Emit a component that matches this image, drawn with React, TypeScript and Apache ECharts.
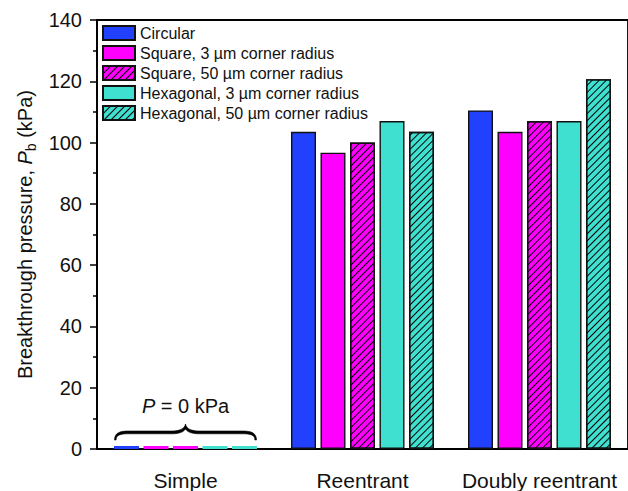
import React, { useEffect, useRef } from "react";
import * as echarts from "echarts";

const categories = ["Simple", "Reentrant", "Doubly reentrant"];
const seriesNames = [
  "Circular",
  "Square, 3 µm corner radius",
  "Square, 50 µm corner radius",
  "Hexagonal, 3 µm corner radius",
  "Hexagonal, 50 µm corner radius",
];
const circular = [0, 103.5, 110.5];
const square3 = [0, 96.7, 103.5];
const square50 = [0, 100, 107];
const hex3 = [0, 107, 107];
const hex50 = [0, 103.5, 120.7];
const yTicks = [0, 20, 40, 60, 80, 100, 120, 140];

const colors = ["#2241FF", "#FF00FF", "#FF00FF", "#40E0D0", "#40E0D0"];
const hatched = [false, false, true, false, true];
const values = [circular, square3, square50, hex3, hex50];

const FONT = "'Liberation Sans', Arial, Helvetica, sans-serif";

const BRACE_D =
  "M0,16 C0,8.5 6,7 14,7 L57,7 C65,7 70,5 71,0 C72,5 77,7 85,7 L128,7 C136,7 142,8.5 142,16 " +
  "L140.4,16 C140.4,11 136,9.8 128,9.8 L85,9.8 C77,9.8 73,8 71,5 C69,8 65,9.8 57,9.8 L14,9.8 C6,9.8 1.6,11 1.6,16 Z";
echarts.graphic.registerShape("brace", (echarts.graphic as any).extendPath(BRACE_D, {}));

export default function App() {
  const ref = useRef<HTMLDivElement>(null);
  useEffect(() => {
    document.body.style.margin = "0";
    const chart = echarts.init(ref.current!, null, { renderer: "svg" });
    const decal = {
      symbol: "rect",
      symbolSize: 1,
      dashArrayX: [1, 0],
      dashArrayY: [0.9, 3.6],
      rotation: -Math.PI / 4,
      color: "#000",
      backgroundColor: null,
    };
    const series = seriesNames.map((name, i) => ({
      name,
      type: "bar",
      barWidth: 25,
      barGap: "18%",
      barMinHeight: 3,
      itemStyle: {
        color: colors[i],
        borderColor: "#111",
        borderWidth: 1.4,
        decal: hatched[i] ? decal : undefined,
      },
      data: values[i].map((v) =>
        v === 0
          ? { value: v, itemStyle: { borderWidth: 0, decal: { symbol: "none" } } }
          : v
      ),
    }));
    chart.setOption({
      animation: false,
      textStyle: { fontFamily: FONT },
      grid: {
        left: 97,
        right: 0,
        top: 20,
        bottom: 41,
        show: true,
        borderColor: "#000",
        borderWidth: 1.8,
      },
      legend: {
        left: 102,
        top: 25,
        padding: 0,
        orient: "vertical",
        itemWidth: 32,
        itemHeight: 14,
        itemGap: 4,
        icon: "rect",
        textStyle: { fontSize: 16, color: "#111", fontFamily: FONT },
        data: seriesNames,
      },
      xAxis: {
        type: "category",
        data: categories,
        axisLine: { lineStyle: { color: "#000", width: 1.8 } },
        axisTick: { alignWithLabel: true, length: 6, lineStyle: { color: "#000", width: 1.5 } },
        axisLabel: { interval: 0, fontSize: 21, color: "#111", margin: 21, fontFamily: FONT },
      },
      yAxis: {
        type: "value",
        min: 0,
        max: yTicks[yTicks.length - 1],
        interval: 20,
        splitLine: { show: false },
        axisLine: { show: true, lineStyle: { color: "#000", width: 1.8 } },
        axisTick: { show: true, length: 7, lineStyle: { color: "#000", width: 1.5 } },
        minorTick: { show: true, splitNumber: 2, length: 4, lineStyle: { color: "#000", width: 1.5 } },
        axisLabel: { fontSize: 20, color: "#111", margin: 15, fontFamily: FONT },
        name: "{a|Breakthrough pressure, }{i|P}{s|b}{a| (kPa)}",
        nameLocation: "middle",
        nameGap: 58,
        nameTextStyle: {
          fontFamily: FONT,
          rich: {
            a: { fontSize: 20, color: "#111", fontFamily: FONT, lineHeight: 26 },
            i: { fontSize: 20, color: "#111", fontStyle: "italic", fontFamily: FONT, lineHeight: 26 },
            s: { fontSize: 14, color: "#111", fontFamily: FONT, padding: [12, 0, 0, 0], lineHeight: 26 },
          },
        },
      },
      series,
    });
    const cx = chart.convertToPixel({ xAxisIndex: 0 }, "Simple") as any as number;
    const y0 = chart.convertToPixel({ yAxisIndex: 0 }, 0) as any as number;
    chart.setOption({
      graphic: [
        {
          type: "brace",
          x: cx - 71,
          y: y0 - 25,
          style: { fill: "#000", stroke: "#000", lineWidth: 0.6 },
          z: 100,
        },
        {
          type: "text",
          x: cx,
          y: y0 - 43,
          style: {
            text: "{i|P}{a| = 0 kPa}",
            align: "center",
            verticalAlign: "middle",
            rich: {
              i: { fontSize: 20, fontStyle: "italic", fill: "#111", fontFamily: FONT },
              a: { fontSize: 20, fill: "#111", fontFamily: FONT },
            },
          },
          z: 100,
        },
      ],
    });
    return () => chart.dispose();
  }, []);
  return <div ref={ref} style={{ position: "absolute", left: 0, top: 0, width: 628, height: 491 }} />;
}
